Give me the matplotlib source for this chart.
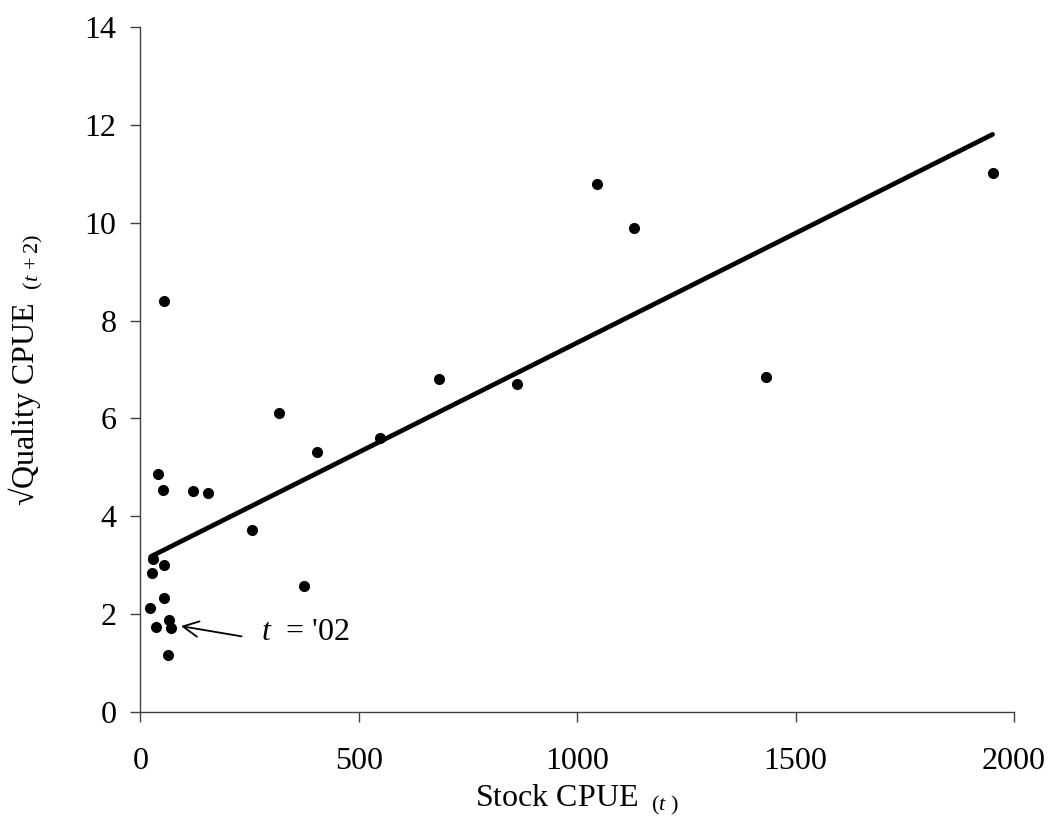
import matplotlib
matplotlib.use("Agg")
import matplotlib.pyplot as plt

# Stock CPUE (t) vs sqrt quality CPUE (t+2)
stock_cpue = [41, 52, 121, 155, 404, 256, 375, 30, 54, 27, 54, 23, 36, 66, 71, 64,
              55, 317, 549, 683, 863, 1045, 1131, 1432, 1951]
sqrt_quality = [4.86, 4.54, 4.52, 4.48, 5.32, 3.72, 2.58, 3.14, 3.00, 2.85, 2.33, 2.13,
                1.74, 1.88, 1.73, 1.18, 8.40, 6.12, 5.60, 6.81, 6.70, 10.78, 9.89, 6.84, 11.01]

# regression line end points
fit_x = [24, 1951]
fit_y = [3.18, 11.80]

# annotation for t = '02
note_xy = (93, 1.76)
note_tail = (232, 1.55)
note_text_xy = (277, 1.62)

x_ticks = [0, 500, 1000, 1500, 2000]
y_ticks = [0, 2, 4, 6, 8, 10, 12, 14]

plt.rcParams["font.family"] = ["Liberation Serif", "DejaVu Serif"]
plt.rcParams["mathtext.fontset"] = "custom"
plt.rcParams["mathtext.rm"] = "Liberation Serif"
plt.rcParams["mathtext.it"] = "Liberation Serif:italic"

fig = plt.figure(figsize=(10.5, 8.33), dpi=100)
ax = fig.add_axes([0.1336, 0.1449, 0.8321, 0.8231])

ax.plot(fit_x, fit_y, color="black", linewidth=3.4, solid_capstyle="round", zorder=2)
ax.scatter(stock_cpue, sqrt_quality, s=64, color="black", linewidths=0, zorder=3)

ax.annotate("", xy=note_xy, xytext=note_tail,
            arrowprops=dict(arrowstyle="->", color="black", linewidth=1.3,
                            mutation_scale=28, shrinkA=0, shrinkB=0))
ax.text(note_text_xy[0], note_text_xy[1], "$t$  = '02", fontsize=23, va="center", ha="left")

ax.set_xlim(0, 2000)
ax.set_ylim(0, 14)
ax.set_xticks(x_ticks)
ax.set_yticks(y_ticks)
ax.tick_params(direction="out", length=7.2, width=1, colors="#404040",
               labelcolor="black", labelsize=23)
ax.tick_params(axis="y", pad=10)
ax.tick_params(axis="x", pad=18)

for side in ("top", "right"):
    ax.spines[side].set_visible(False)
for side in ("left", "bottom"):
    ax.spines[side].set_color("#404040")
    ax.spines[side].set_linewidth(1)

ax.set_xlabel("Stock CPUE ${}_{\\ (t\\ )}$", fontsize=23)
ax.set_ylabel("\u221aQuality CPUE ${}_{\\ (t\\,+2)}$", fontsize=23)
ax.xaxis.set_label_coords(0.5, -0.102)
ax.yaxis.set_label_coords(-0.109, 0.5)

fig.savefig("out.png", dpi=100)
